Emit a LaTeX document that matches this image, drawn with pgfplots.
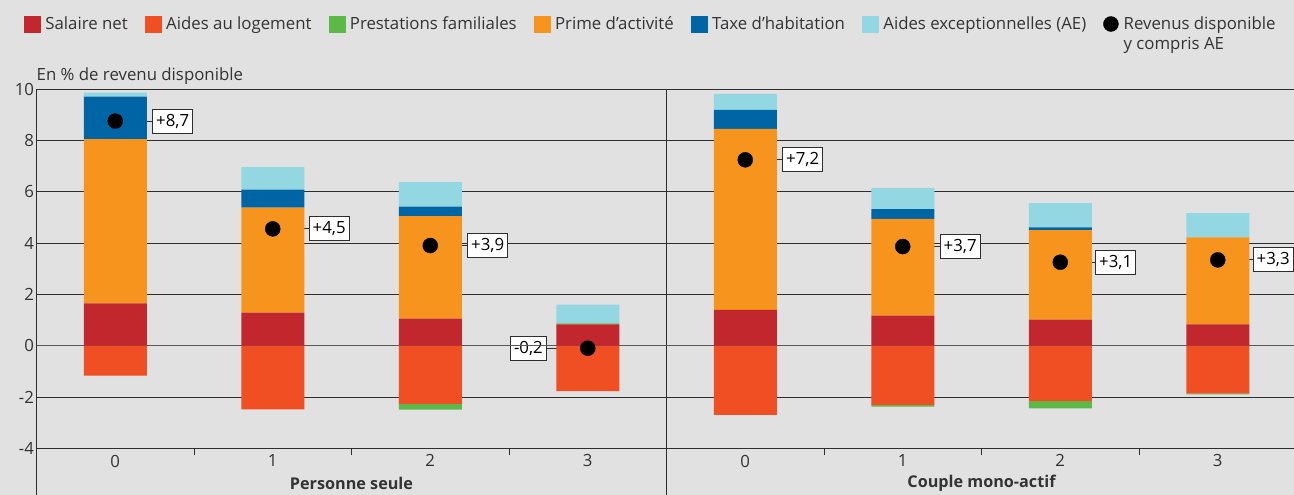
\documentclass[border=0pt]{standalone}
\usepackage{fontspec}
\setmainfont{Open Sans}
\usepackage{pgfplots}
\usepackage{pgfplotstable}
\pgfplotsset{compat=1.18}
\usetikzlibrary{backgrounds}
\definecolor{bgc}{HTML}{E1E1E1}
\definecolor{csal}{HTML}{C1272D}
\definecolor{clog}{HTML}{F04E23}
\definecolor{cpre}{HTML}{5DB947}
\definecolor{cpri}{HTML}{F7941D}
\definecolor{ctax}{HTML}{0065A4}
\definecolor{cae}{HTML}{93D7E3}
\definecolor{txt}{HTML}{333333}
\definecolor{gridc}{HTML}{2E2E2E}

\pgfplotstableread{
x sal log pre pri tax ae rev
0 1.65 -1.17 0 6.40 1.65 0.16 8.75
1 1.29 -2.48 0 4.09 0.70 0.88 4.55
2 1.05 -2.27 -0.22 4.00 0.37 0.95 3.90
3 0.83 -1.77 0.04 0 0 0.73 -0.10
4 1.39 -2.70 0 7.06 0.74 0.62 7.24
5 1.17 -2.31 -0.07 3.77 0.38 0.83 3.86
6 1.01 -2.16 -0.28 3.49 0.11 0.94 3.25
7 0.83 -1.86 -0.04 3.39 0 0.94 3.34
}\data

\pgfplotsset{
  sq/.style={legend image code/.code={\fill[#1] (0pt,-8pt) rectangle (16pt,8pt);}},
}
\tikzset{
  lbl/.style={draw=gridc, fill=white, line width=0.9pt, inner xsep=3.5pt, inner ysep=0pt, minimum height=24pt, text=black},
  conn/.style={draw=gridc, line width=1pt}
}

\begin{document}
\begin{tikzpicture}[font=\fontsize{16.8}{19}\selectfont]
\begin{axis}[
  at={(0,0)}, anchor=south west,
  scale only axis, width=1257.5pt, height=359.3pt,
  xmin=-0.5, xmax=7.484, ymin=-4, ymax=10,
  ybar stacked, bar width=63pt,
  axis line style={draw=none},
  ytick={-4,-2,...,10},
  yticklabels={-4,-2,0,2,4,6,8,10},
  ymajorgrids, grid style={color=gridc, line width=0.8pt},
  xtick={0,...,7}, xticklabels={0,1,2,3,0,1,2,3},
  minor xtick={0.5,1.5,2.5,4.5,5.5,6.5},
  major tick length=0pt, minor tick length=7pt, tick align=outside,
  tick pos=left,
  tick style={color=gridc, line width=0.8pt},
  ticklabel style={text=txt},
  yticklabel style={xshift=1pt},
  xticklabel style={yshift=-3pt},
  clip=false,
  legend style={at={(-0.00994,1.1809)}, anchor=west, draw=none, fill=none,
    inner sep=0pt, outer sep=0pt, text=txt,
    /tikz/every odd column/.append style={column sep=3pt},
    /tikz/every even column/.append style={column sep=15pt}},
  legend columns=7,
  legend cell align=left,
]
\addlegendimage{sq=csal}\addlegendentry{Salaire net}
\addlegendimage{sq=clog}\addlegendentry{Aides au logement}
\addlegendimage{sq=cpre}\addlegendentry{Prestations familiales}
\addlegendimage{sq=cpri}\addlegendentry{Prime d'activité}
\addlegendimage{sq=ctax}\addlegendentry{Taxe d'habitation}
\addlegendimage{sq=cae}\addlegendentry{Aides exceptionnelles (AE)}
\addlegendimage{legend image code/.code={\fill[black] (7.5pt,0pt) circle (7.5pt);}}
\addlegendentry{\rlap{\smash{\raisebox{-20pt}{y compris AE}}}Revenus disponible}

\addplot[forget plot, fill=csal, draw=none] table[x=x, y=sal] {\data};
\addplot[forget plot, fill=clog, draw=none] table[x=x, y=log] {\data};
\addplot[forget plot, fill=cpre, draw=none] table[x=x, y=pre] {\data};
\addplot[forget plot, fill=cpri, draw=none] table[x=x, y=pri] {\data};
\addplot[forget plot, fill=ctax, draw=none] table[x=x, y=tax] {\data};
\addplot[forget plot, fill=cae, draw=none] table[x=x, y=ae] {\data};

% zero line over the bars
\draw[color=black!65, line width=1.6pt] (axis cs:-0.5,0) -- (axis cs:7.484,0);
% left axis line and group separator
\draw[color=gridc, line width=0.9pt] (axis cs:-0.5,10) -- ++(0pt,-406.5pt);
\draw[color=gridc, line width=0.9pt] (axis cs:3.5,10) -- ++(0pt,-406.5pt);

% y axis title and group labels
\node[anchor=base west, text=txt, inner sep=0pt] at ([yshift=8pt]axis cs:-0.5,10) {En \% de revenu disponible};
\node[text=txt, font=\fontsize{16.2}{19}\selectfont\bfseries] at ([yshift=-35pt]axis cs:1.5,-4) {Personne seule};
\node[text=txt, font=\fontsize{16.2}{19}\selectfont\bfseries] at ([yshift=-35pt]axis cs:5.5,-4) {Couple mono-actif};

% value labels
\draw[conn] (axis cs:0,8.75) -- ++(37pt,0pt) node[lbl, anchor=west] {+8,7};
\draw[conn] (axis cs:1,4.55) -- ++(36pt,0pt) node[lbl, anchor=west] {+4,5};
\draw[conn] (axis cs:2,3.90) -- ++(37pt,0pt) node[lbl, anchor=west] {+3,9};
\draw[conn] (axis cs:3,-0.10) -- ++(-41pt,0pt) node[lbl, anchor=east] {-0,2};
\draw[conn] (axis cs:4,7.24) -- ++(37pt,0pt) node[lbl, anchor=west] {+7,2};
\draw[conn] (axis cs:5,3.86) -- ++(37pt,0pt) node[lbl, anchor=west] {+3,7};
\draw[conn] (axis cs:6,3.25) -- ++(35pt,0pt) node[lbl, anchor=west] {+3,1};
\draw[conn] (axis cs:7,3.34) -- ++(35pt,0pt) node[lbl, anchor=west] {+3,3};

\addplot[forget plot, stack plots=false, only marks, mark=*, mark size=7.5pt, black] table[x=x, y=rev] {\data};
\end{axis}
\pgfresetboundingbox
\path[use as bounding box] (-36.5pt,-46.7pt) rectangle (1257.5pt,448.3pt);
\begin{pgfonlayer}{background}
\fill[bgc] (-36.5pt,-46.7pt) rectangle (1257.5pt,448.3pt);
\end{pgfonlayer}
\end{tikzpicture}
\end{document}
